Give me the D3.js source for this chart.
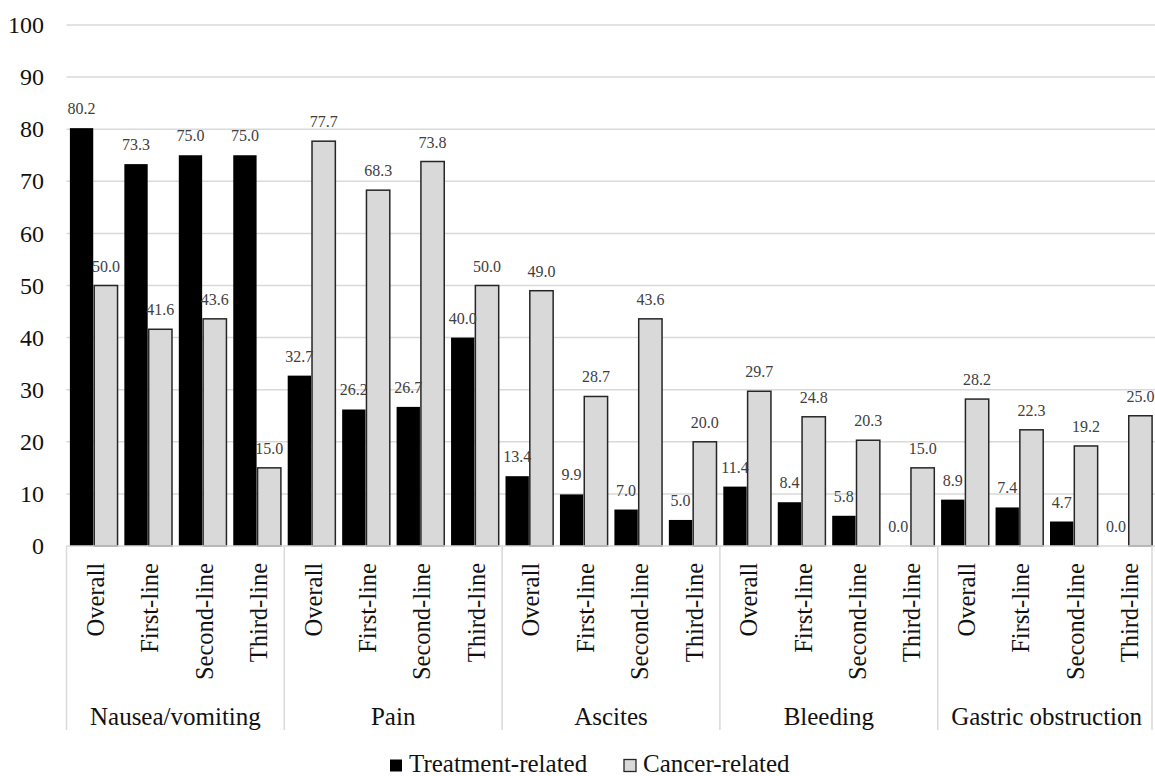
<!DOCTYPE html>
<html><head><meta charset="utf-8">
<script src="https://cdn.jsdelivr.net/npm/d3@7"></script>
<style>body{margin:0;background:#fff}svg{display:block}</style>
</head><body>
<svg id="c" width="1155" height="776"></svg>
<script>
const groups = ["Nausea/vomiting","Pain","Ascites","Bleeding","Gastric obstruction"];
const lines = ["Overall","First-line","Second-line","Third-line"];
const treatment = [80.2,73.3,75.0,75.0, 32.7,26.2,26.7,40.0, 13.4,9.9,7.0,5.0, 11.4,8.4,5.8,0.0, 8.9,7.4,4.7,0.0];
const cancer = [50.0,41.6,43.6,15.0, 77.7,68.3,73.8,50.0, 49.0,28.7,43.6,20.0, 29.7,24.8,20.3,15.0, 28.2,22.3,19.2,25.0];
const yTicks = [0,10,20,30,40,50,60,70,80,90,100];
const seriesNames = ["Treatment-related","Cancer-related"];

const FONT = '"Liberation Serif","Times New Roman",serif';
const svg = d3.select("#c");
const L = 66.5, R = 1155.5, T = 25, B = 546;

const cats = [];
groups.forEach((g,gi)=>lines.forEach((l,li)=>cats.push({g,l,i:gi*4+li})));

const x = d3.scaleBand().domain(d3.range(cats.length)).range([L,R]).paddingInner(0).paddingOuter(0);
const x1 = d3.scaleBand().domain([0,1]).range([0,x.bandwidth()]).paddingInner(0.04).paddingOuter(0.14);
const y = d3.scaleLinear().domain([0,100]).range([B,T]);

// gridlines
svg.append("g").selectAll("line").data(yTicks.filter(d=>d>0)).join("line")
  .attr("x1",L).attr("x2",R).attr("y1",d=>y(d)).attr("y2",d=>y(d))
  .attr("stroke","#d9d9d9").attr("stroke-width",1.5);

// y axis labels
const yAxis = d3.axisLeft(y).tickValues(yTicks).tickSize(0).tickPadding(0).tickFormat(d3.format("d"));
const ya = svg.append("g").attr("transform",`translate(44,0)`).call(yAxis);
ya.select(".domain").remove();
ya.selectAll("text").style("font-family",FONT).style("font-size","24px").attr("fill","#111");

// bars
const barG = svg.append("g");
barG.selectAll("rect.t").data(cats).join("rect").attr("class","t")
  .attr("x",d=>x(d.i)+x1(0)).attr("width",x1.bandwidth())
  .attr("y",d=>y(treatment[d.i])).attr("height",d=>B-y(treatment[d.i]))
  .attr("fill","#000");
barG.selectAll("rect.c").data(cats).join("rect").attr("class","c")
  .attr("x",d=>x(d.i)+x1(1)).attr("width",x1.bandwidth())
  .attr("y",d=>y(cancer[d.i])).attr("height",d=>B-y(cancer[d.i]))
  .attr("fill","#d9d9d9").attr("stroke","#262626").attr("stroke-width",1.5);

// value labels
const lab = svg.append("g").attr("fill","#404040").attr("text-anchor","middle");
lab.selectAll("text.t").data(cats).join("text").attr("class","t")
  .style("font-family",FONT).style("font-size","16px")
  .attr("x",d=>x(d.i)+x1(0)+x1.bandwidth()/2).attr("y",d=>y(treatment[d.i])-14)
  .text(d=>d3.format(".1f")(treatment[d.i]));
lab.selectAll("text.c").data(cats).join("text").attr("class","c")
  .style("font-family",FONT).style("font-size","16px")
  .attr("x",d=>x(d.i)+x1(1)+x1.bandwidth()/2).attr("y",d=>y(cancer[d.i])-14)
  .text(d=>d3.format(".1f")(cancer[d.i]));

// baseline
svg.append("line").attr("x1",L).attr("x2",R).attr("y1",B).attr("y2",B).attr("stroke","#d9d9d9").attr("stroke-width",1.5);

// group dividers
const divs = d3.range(groups.length+1).map(k=> k<groups.length ? x(k*4) : Math.min(R,1152));
svg.append("g").selectAll("line").data(divs).join("line")
  .attr("x1",d=>d).attr("x2",d=>d).attr("y1",B).attr("y2",730)
  .attr("stroke","#d9d9d9").attr("stroke-width",1.5);

// category labels
svg.append("g").selectAll("text").data(cats).join("text")
  .attr("transform",d=>`translate(${x(d.i)+x.bandwidth()/2+10},563) rotate(-90)`)
  .attr("text-anchor","end")
  .style("font-family",FONT).style("font-size","24.5px").attr("fill","#111")
  .text(d=>d.l);

// group labels
svg.append("g").selectAll("text").data(groups).join("text")
  .attr("x",(d,i)=>x(i*4)+2*x.bandwidth()).attr("y",725)
  .attr("text-anchor","middle").style("font-family",FONT).style("font-size","25px").attr("fill","#111")
  .text(d=>d);

// legend
const leg = svg.append("g").attr("fill","#111");
const legX = [390,624];
seriesNames.forEach((s,i)=>{
  leg.append("rect").attr("x",legX[i]).attr("y",759.5).attr("width",12).attr("height",12)
    .attr("fill",i===0?"#000":"#d9d9d9").attr("stroke",i===0?"none":"#262626").attr("stroke-width",1.3);
  leg.append("text").attr("x",legX[i]+19).attr("y",772)
    .style("font-family",FONT).style("font-size","25px").text(s);
});
</script>
</body></html>
